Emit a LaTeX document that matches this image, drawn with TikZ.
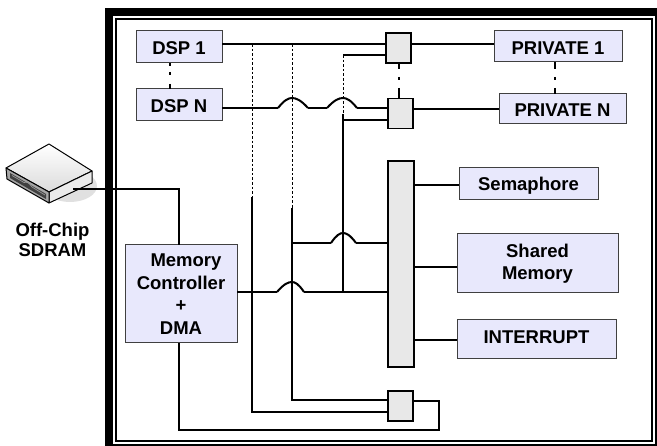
\documentclass[tikz,border=0pt]{standalone}
\usepackage{fontspec}
\setmainfont{Liberation Sans}
\usetikzlibrary{calc,positioning}
\def\hopwire[#1](#2)(#3:#4:#5){\draw[#1] ($(#2)+(-#3,0)$) .. controls ($(#2)+(-0.55*#3,-0.8*#5)$) and ($(#2)+(-0.25*#3,-#5)$) .. ($(#2)+(0,-#5)$) .. controls ($(#2)+(0.25*#4,-#5)$) and ($(#2)+(0.55*#4,-0.8*#5)$) .. ($(#2)+(#4,0)$);}
\definecolor{blockblue}{HTML}{E8E8FC}
\definecolor{switchgray}{HTML}{E8E8E8}
\tikzset{
	wire/.style={line width=2pt},
	tracewire/.style={line width=0.8pt,dash pattern=on 2.6pt off 2pt},
	dotwire/.style={line width=2pt},
	blockbox/.style={draw=black!75,line width=1pt,fill=blockblue,inner sep=0pt,outer sep=0pt,align=center,font=\fontsize{18.5}{22.5}\selectfont\bfseries},
	switchbox/.style={draw=black,line width=1.5pt,fill=switchgray,inner sep=0pt,outer sep=0pt,minimum width=25,minimum height=30},
}
\begin{document}
\begin{tikzpicture}[x=1pt,y=-1pt]
		\useasboundingbox (0,0) rectangle (657,446);
		
		\draw[fill=black,draw=none] (105,8) rectangle (657,446);
		\draw[fill=white,line width=1pt] (112.5,15.5) rectangle (655.5,445);
		\draw[line width=1.3pt] (116,19) rectangle (652,441);
		
		\draw[fill=black!12,draw=none] (70,186) ellipse (27 and 16);
		\draw[top color=white,bottom color=black!14,draw=black,line width=1pt,line join=round] (6,168) -- (49,144) -- (92,171) -- (49,192) -- cycle;
		\draw[fill=black!8,draw=black,line width=1pt,line join=round] (49,192) -- (92,171) -- (92,183) -- (49,203) -- cycle;
		\draw[fill=black!35,draw=black,line width=1pt,line join=round] (6,168) -- (49,192) -- (49,203) -- (7,179) -- cycle;
		\draw[fill=black!75,draw=none] (10,173) -- (46,194) -- (46,199) -- (10,178) -- cycle;
		\draw[black!40,line width=0.7pt] (12,175.5) -- (24,182.5) -- (28,182) -- (32,187) -- (45,195);
		
		\node[font=\fontsize{18.5}{20}\selectfont\bfseries,align=center,inner sep=0pt] (sdramlabel) at (52.5,240) {Off-Chip\\SDRAM};
		\coordinate (sdramport) at (73,189);
		
		\node[blockbox,minimum width=86,minimum height=32,text height=16,text depth=0] (dsp1) at (179,47) {DSP 1};
		\node[blockbox,minimum width=86,minimum height=32,text height=16,text depth=0] (dspn) at (179,105) {DSP N};
		\node[blockbox,minimum width=128,minimum height=31,text height=17,text depth=0] (private1) at (558,46.5) {PRIVATE 1};
		\node[blockbox,minimum width=127,minimum height=30,text height=15,text depth=0] (privaten) at (562.5,109) {PRIVATE N};
		\node[blockbox,minimum width=139,minimum height=32,text height=14,text depth=0] (semaphore) at (528.5,184) {Semaphore};
		\node[blockbox,minimum width=161,minimum height=59] (shared) at (537.5,263.5) {Shared\\Memory};
		\node[blockbox,minimum width=159,minimum height=39,text height=13,text depth=5] (interrupt) at (536.5,339.5) {INTERRUPT};
		\node[blockbox,minimum width=112,minimum height=98] (memctrl) at (181,294) {\hspace*{10pt}Memory\\Controller\\+\\DMA};
		
		\node[draw=black,line width=1.5pt,fill=switchgray,inner sep=0pt,outer sep=0pt,minimum width=26,minimum height=206] (bus) at (401,264) {};
		\node[switchbox] (sw1) at (398.5,48) {};
		\node[switchbox] (swn) at (400.5,113.5) {};
		\node[switchbox] (swm) at (400.5,406) {};
		
		\coordinate (traceA) at (252,44);
		\coordinate (traceB) at (292,44);
		\coordinate (traceC) at (343,55);
		\coordinate (hopA) at (292,108);
		\coordinate (hopB) at (343,108);
		\coordinate (hopC) at (343,243);
		\coordinate (hopD) at (292,292);
		
		\draw[wire] (dsp1.east |- traceA) -- (sw1.west |- traceA);
		\draw[wire] (sw1.east |- traceA) -- (private1.west |- traceA);
		\draw[wire] (sw1.west |- traceC) -- (traceC);
		\draw[wire] (swn.east |- 0,109) -- (privaten.west |- 0,109);
		
		\draw[tracewire] (traceA) -- (252,197);
		\draw[tracewire] (traceB) -- (292,208);
		\draw[tracewire] (traceC) -- (343,114);
		
		\draw[wire] (dspn.east |- hopA) -- ($(hopA)+(-14,0)$);
		\hopwire[wire](hopA)(14:16:10)
		\draw[wire] ($(hopA)+(16,0)$) -- ($(hopB)+(-16,0)$);
		\hopwire[wire](hopB)(16:14:10)
		\draw[wire] ($(hopB)+(14,0)$) -- (swn.west |- hopB);
		\draw[wire] (343,114) -- (343,292);
		\draw[wire] (343,120) -- (swn.west |- 0,120);
		
		\draw[wire] (252,197) -- (252,412) -- (swm.west |- 0,412);
		\draw[wire] (292,208) -- (292,400) -- (swm.west |- 0,400);
		
		\draw[wire] (292,243) -- ($(hopC)+(-12,0)$);
		\hopwire[wire](hopC)(12:13:10)
		\draw[wire] ($(hopC)+(13,0)$) -- (bus.west |- hopC);
		
		\draw[wire] (memctrl.east |- hopD) -- ($(hopD)+(-15,0)$);
		\hopwire[wire](hopD)(15:12:10)
		\draw[wire] ($(hopD)+(12,0)$) -- (bus.west |- hopD);
		
		\draw[wire] (bus.east |- 0,185) -- (semaphore.west |- 0,185);
		\draw[wire] (bus.east |- 0,267) -- (shared.west |- 0,267);
		\draw[wire] (bus.east |- 0,340) -- (interrupt.west |- 0,340);
		
		\draw[wire] (sdramport) -| ($(memctrl.north)+(-2,0)$);
		\draw[wire] ($(memctrl.south)+(-2,0)$) |- (439,430) |- (swm.east |- 0,401);
		
		\draw[dotwire,dash pattern=on 3pt off 6pt on 3pt off 9pt on 5pt] ($(dsp1.south)+(-9,0)$) -- ($(dspn.north)+(-9,0)$);
		\draw[dotwire,dash pattern=on 7pt off 8pt on 3pt off 8pt on 6pt] (private1.south -| 555,0) -- (privaten.north -| 555,0);
		\draw[dotwire,dash pattern=on 6pt off 8pt on 3pt off 8pt on 11pt] (sw1.south) -- (sw1.south |- swn.north);
	\end{tikzpicture}
\end{document}
